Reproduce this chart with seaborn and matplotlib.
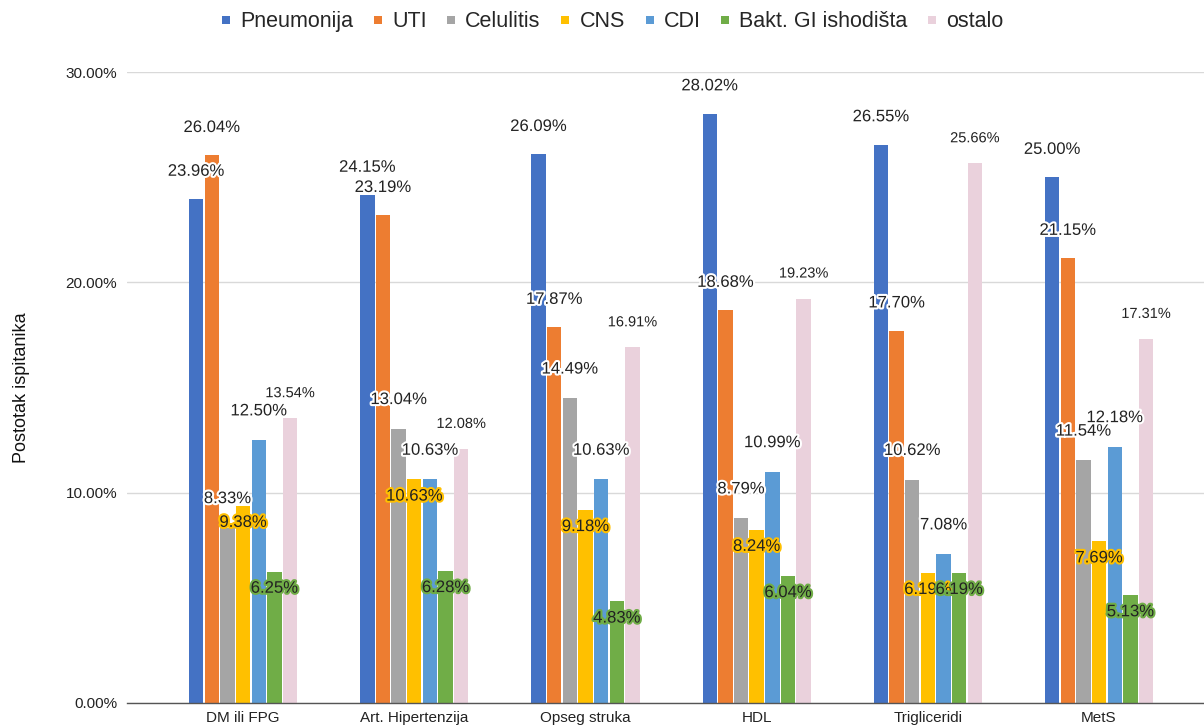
import pandas as pd
import seaborn as sns
import matplotlib.pyplot as plt
import matplotlib.patheffects as pe
from matplotlib.lines import Line2D

# categories and series
groups = ['DM ili FPG', 'Art. Hipertenzija', 'Opseg struka', 'HDL', 'Trigliceridi', 'MetS']
series = ['Pneumonija', 'UTI', 'Celulitis', 'CNS', 'CDI', 'Bakt. GI ishodišta', 'ostalo']

pneumonija = [23.96, 24.15, 26.09, 28.02, 26.55, 25.00]
uti = [26.04, 23.19, 17.87, 18.68, 17.70, 21.15]
celulitis = [8.33, 13.04, 14.49, 8.79, 10.62, 11.54]
cns = [9.38, 10.63, 9.18, 8.24, 6.19, 7.69]
cdi = [12.50, 10.63, 10.63, 10.99, 7.08, 12.18]
bakt_gi = [6.25, 6.28, 4.83, 6.04, 6.19, 5.13]
ostalo = [13.54, 12.08, 16.91, 19.23, 25.66, 17.31]

y_ticks = [0, 10, 20, 30]

colors = ['#4472C4', '#ED7D31', '#A5A5A5', '#FFC000', '#5B9BD5', '#70AD47', '#EAD1DC']
# label styling per series: vertical offset (pt), stroke colour, font size
label_dy = [20, 20, 21, -12, 21, -12, 18]
label_stroke = ['white', 'white', 'white', '#FFC000', 'white', '#70AD47', 'white']
label_size = [12, 12, 12, 12, 12, 12, 10.5]

# long-form table
values = [pneumonija, uti, celulitis, cns, cdi, bakt_gi, ostalo]
rows = []
for s, vals in zip(series, values):
    for g, v in zip(groups, vals):
        rows.append({'grupa': g, 'serija': s, 'postotak': v})
df = pd.DataFrame(rows)

sns.set_theme(style='white')
plt.rcParams['font.family'] = ['Liberation Sans', 'DejaVu Sans']

fig = plt.figure(figsize=(12.04, 7.26), dpi=100)
ax = fig.add_axes([127 / 1204, 23 / 726, 1077 / 1204, 631 / 726])

sns.barplot(data=df, x='grupa', y='postotak', hue='serija', order=groups,
            hue_order=series, palette=colors, width=0.64, gap=0.08,
            saturation=1, legend=False, ax=ax, linewidth=0)

# data labels
for i, cont in enumerate(ax.containers):
    for bar in cont:
        h = bar.get_height()
        x = bar.get_x() + bar.get_width() / 2
        ax.annotate(f'{h:.2f}%', (x, h), xytext=(0, label_dy[i]),
                    textcoords='offset points', ha='center', va='center',
                    fontsize=label_size[i], color='#222222', zorder=5,
                    path_effects=[pe.withStroke(linewidth=3, foreground=label_stroke[i])])

ax.set_xlim(-0.678, 5.613)
ax.set_ylim(0, 30)
ax.set_yticks(y_ticks)
ax.set_yticklabels([f'{t:.2f}%' for t in y_ticks], fontsize=11, color='#222222')
ax.tick_params(axis='x', labelsize=11, labelcolor='#222222', length=0, pad=6)
ax.tick_params(axis='y', length=0, pad=7)
ax.set_xlabel('')
ax.set_ylabel('Postotak ispitanika', fontsize=13, color='#111111', va='center')
ax.yaxis.set_label_coords(-0.0975, 0.5)
ax.yaxis.grid(True, color='#D9D9D9', linewidth=1)
ax.set_axisbelow(True)
for side in ['top', 'right', 'left']:
    ax.spines[side].set_visible(False)
ax.spines['bottom'].set_color('#555555')
ax.spines['bottom'].set_linewidth(1)

handles = [Line2D([], [], marker='s', linestyle='', markersize=6,
                  markerfacecolor=c, markeredgewidth=0) for c in colors]
fig.legend(handles, series, loc='center', bbox_to_anchor=(0.508, 0.97),
           ncol=7, frameon=False, fontsize=15.5, handlelength=0.6,
           handletextpad=0.35, columnspacing=0.85)

plt.savefig('out.png', dpi=100)
